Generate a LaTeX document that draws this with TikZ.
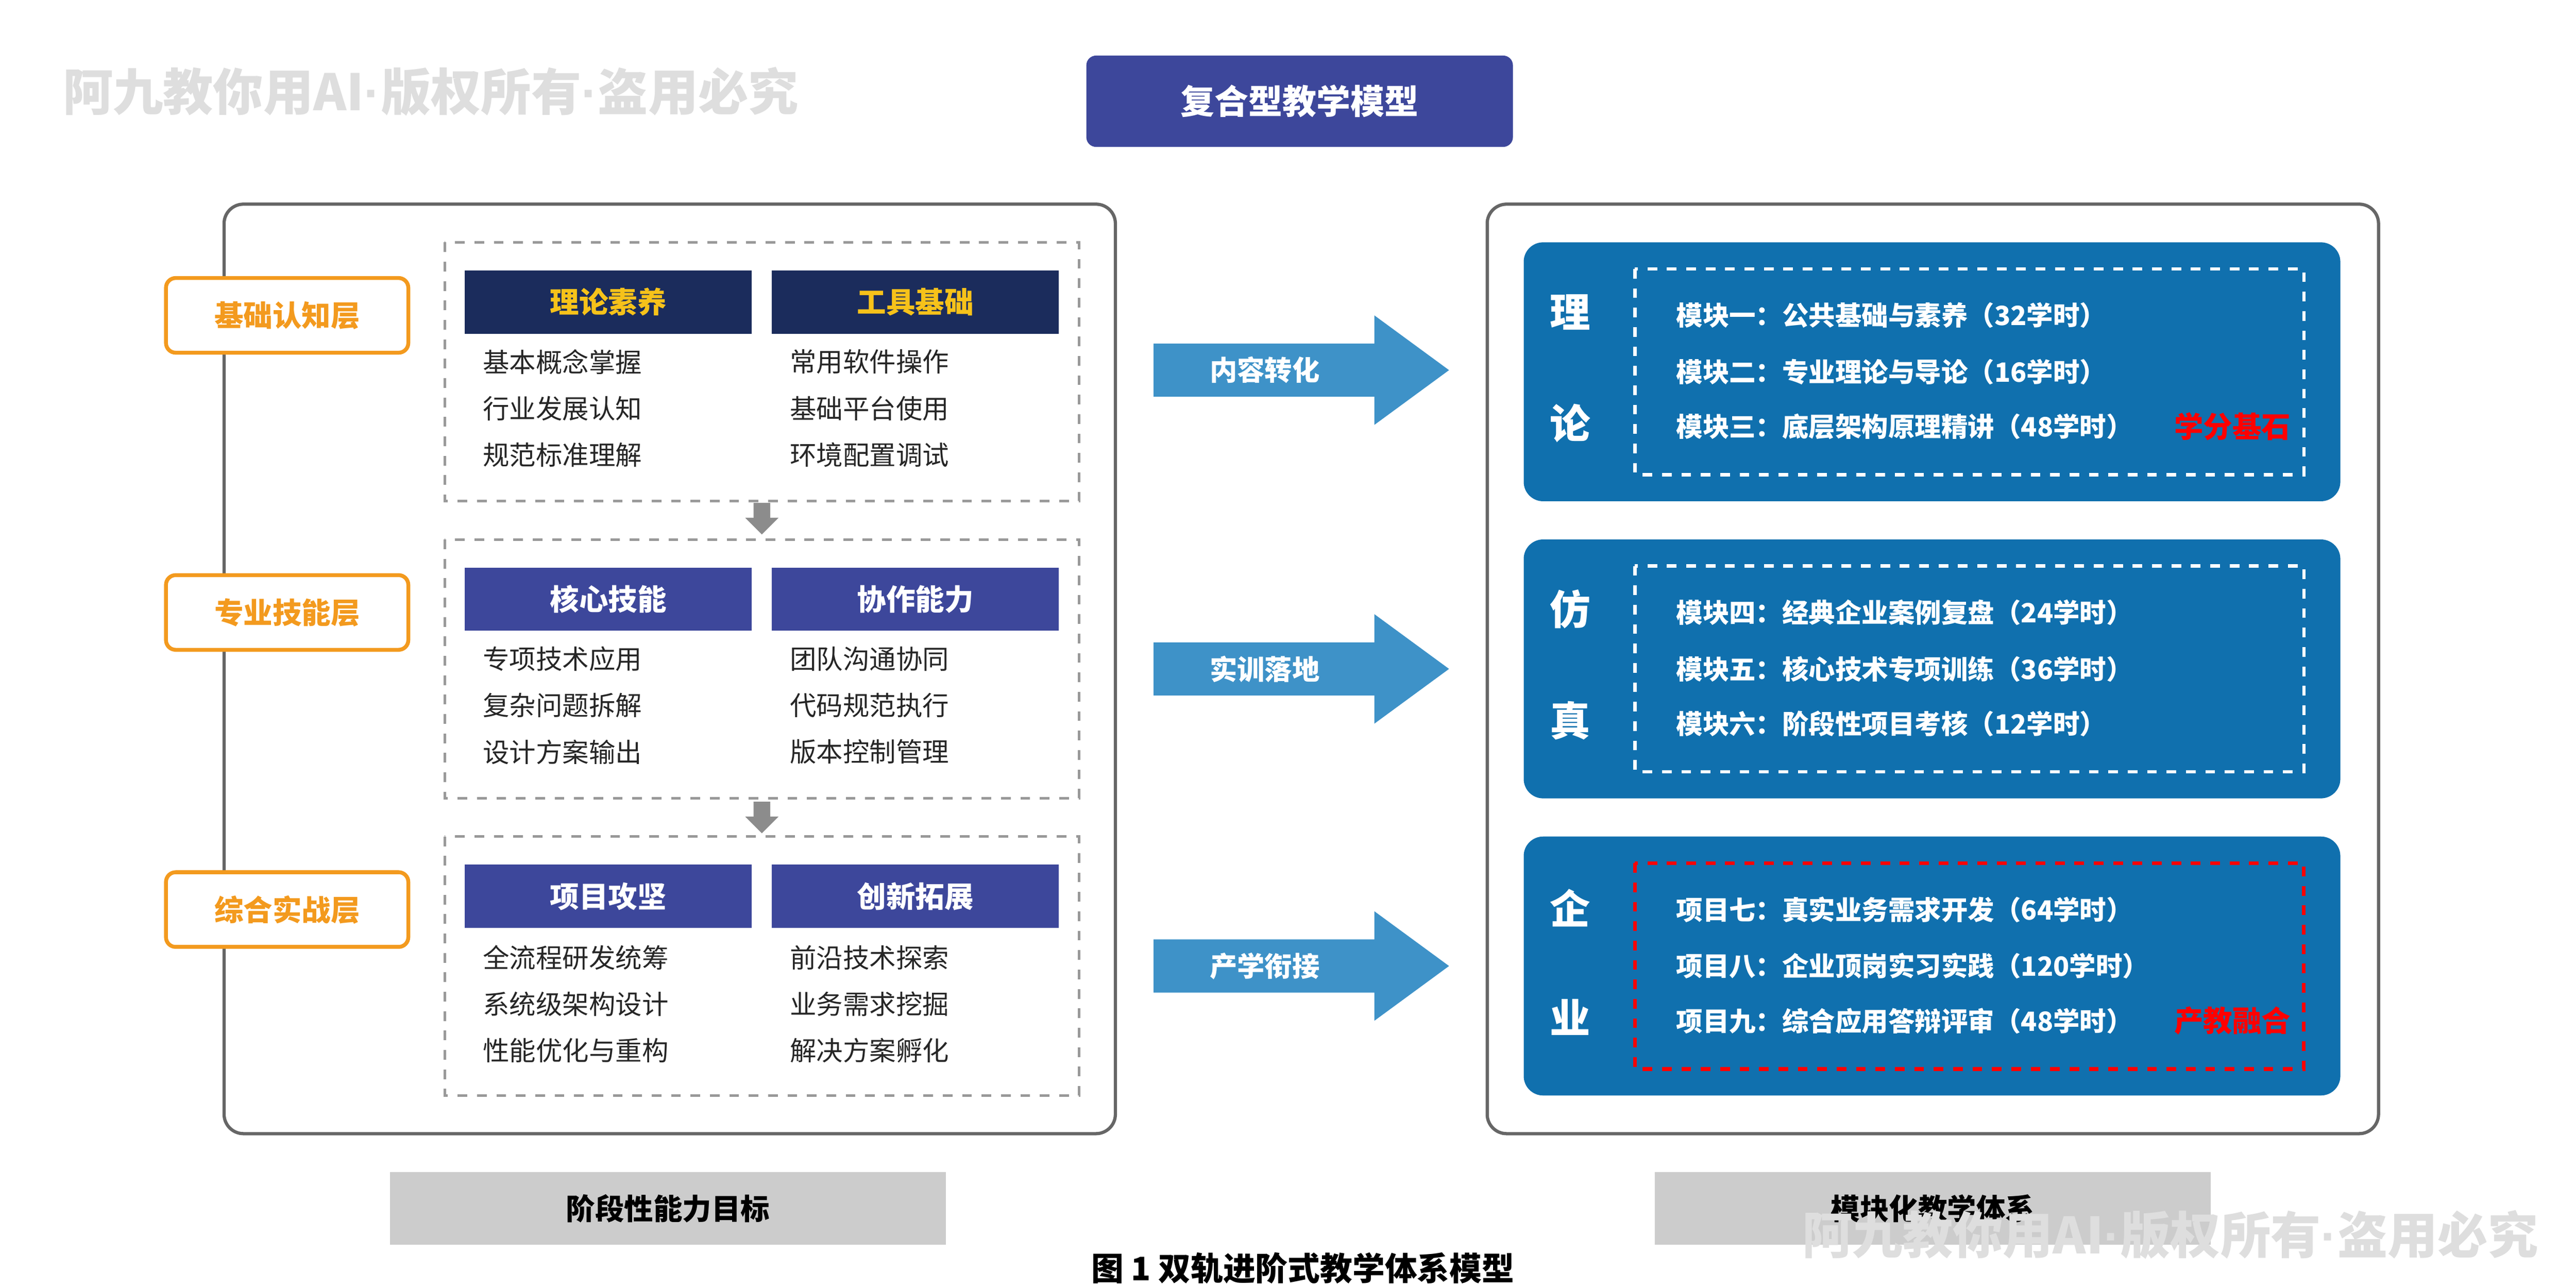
\documentclass[tikz,border=0pt]{standalone}
\usepackage{fontspec}
\setmainfont{Noto Sans CJK SC}
\newfontfamily\dotf{Liberation Sans}
\newcommand{\mydot}{{\dotf\bfseries ·}}
\usetikzlibrary{arrows.meta}
\definecolor{navy}{HTML}{1B2C5C}
\definecolor{indigo}{HTML}{3D479B}
\definecolor{gold}{HTML}{F6C21A}
\definecolor{orng}{HTML}{F39A1E}
\definecolor{blu}{HTML}{1070AE}
\definecolor{arr}{HTML}{3E92C8}
\begin{document}
\begin{tikzpicture}[x=0.01804cm,y=-0.01804cm,
 txt/.style={font=\fontsize{8.2}{9}\selectfont,anchor=west,text=black!85},
 hdr/.style={rectangle,minimum width=173*0.01804cm,minimum height=38*0.01804cm,inner sep=0,font=\bfseries\fontsize{9}{10}\selectfont},
 layer/.style={draw=orng,line width=1.2pt,rounded corners=3pt,fill=white,minimum width=146*0.01804cm,minimum height=45*0.01804cm,inner sep=0,text=orng,font=\bfseries\fontsize{9}{10}\selectfont},
 dbox/.style={draw=black!40,dashed,line width=0.8pt},
 bigc/.style={text=white,font=\bfseries\fontsize{12.5}{13}\selectfont},
 rtxt/.style={text=white,anchor=west,font=\bfseries\fontsize{8.2}{9}\selectfont},
 wm/.style={text=black!13,font=\bfseries\fontsize{15.5}{16}\selectfont},
 glab/.style={fill=black!20,minimum width=335*0.01804cm,minimum height=44*0.01804cm,inner sep=0,font=\bfseries\fontsize{9}{10}\selectfont}]
\useasboundingbox (0,0) rectangle (1552,776);
\fill[white] (0,0) rectangle (1552,776);
\node[wm,anchor=west] (wm1) at (31,55) {阿九教你用AI\mydot 版权所有\mydot 盗用必究};
\node[fill=indigo,rounded corners=3pt,minimum width=257*0.01804cm,minimum height=55*0.01804cm,inner sep=0,text=white,font=\bfseries\fontsize{10.5}{11}\selectfont] (title) at (783,61) {复合型教学模型};
\draw[black!60,line width=1pt,rounded corners=6pt] (135,123) rectangle (672,683);
\draw[black!60,line width=1pt,rounded corners=6pt] (896,123) rectangle (1433,683);
\foreach \y/\i in {146/1,325/2,504/3}{\draw[dbox] (268,\y) rectangle (650,\y+156);}
\node[layer] (L1) at (173,190) {基础认知层};
\node[layer] (L2) at (173,369) {专业技能层};
\node[layer] (L3) at (173,548) {综合实战层};
\node[hdr,fill=navy,text=gold] (h1) at (366.5,182) {理论素养};
\node[hdr,fill=navy,text=gold] (h2) at (551.5,182) {工具基础};
\node[hdr,fill=indigo,text=white] (h3) at (366.5,361) {核心技能};
\node[hdr,fill=indigo,text=white] (h4) at (551.5,361) {协作能力};
\node[hdr,fill=indigo,text=white] (h5) at (366.5,540) {项目攻坚};
\node[hdr,fill=indigo,text=white] (h6) at (551.5,540) {创新拓展};
\node[txt] (a1) at (284,218) {基本概念掌握};
\node[txt] (a2) at (284,246) {行业发展认知};
\node[txt] (a3) at (284,274) {规范标准理解};
\node[txt] (b1) at (469,218) {常用软件操作};
\node[txt] (b2) at (469,246) {基础平台使用};
\node[txt] (b3) at (469,274) {环境配置调试};
\node[txt] (c1) at (284,397) {专项技术应用};
\node[txt] (c2) at (284,425) {复杂问题拆解};
\node[txt] (c3) at (284,453) {设计方案输出};
\node[txt] (d1) at (469,397) {团队沟通协同};
\node[txt] (d2) at (469,425) {代码规范执行};
\node[txt] (d3) at (469,453) {版本控制管理};
\node[txt] (e1) at (284,577) {全流程研发统筹};
\node[txt] (e2) at (284,605) {系统级架构设计};
\node[txt] (e3) at (284,633) {性能优化与重构};
\node[txt] (f1) at (469,577) {前沿技术探索};
\node[txt] (f2) at (469,605) {业务需求挖掘};
\node[txt] (f3) at (469,633) {解决方案孵化};
\foreach \y in {303,483}{\fill[black!45] (454,\y) -- (464,\y) -- (464,\y+9) -- (469,\y+9) -- (459,\y+19) -- (449,\y+9) -- (454,\y+9) -- cycle;}
\foreach \y/\t in {223/内容转化,403/实训落地,582/产学衔接}{
 \fill[arr] (695,\y-16) -- (828,\y-16) -- (828,\y-33) -- (873,\y) -- (828,\y+33) -- (828,\y+16) -- (695,\y+16) -- cycle;
 \node[text=white,font=\bfseries\fontsize{8.5}{9}\selectfont] at (762,\y) {\t};}
\foreach \y in {146,325,504}{\fill[blu,rounded corners=6pt] (918,\y) rectangle (1410,\y+156);}
\draw[white,dashed,line width=1pt] (985,162) rectangle (1388,286);
\draw[white,dashed,line width=1pt] (985,341) rectangle (1388,465);
\draw[red,dashed,line width=1.2pt] (985,520) rectangle (1388,644);
\node[bigc] (r1) at (946,188) {理};
\node[bigc] (r2) at (946,255) {论};
\node[bigc] (r3) at (946,367) {仿};
\node[bigc] (r4) at (946,434) {真};
\node[bigc] (r5) at (946,547) {企};
\node[bigc] (r6) at (946,613) {业};
\node[rtxt] (m1) at (1003,190) {模块一：公共基础与素养（32学时）};
\node[rtxt] (m2) at (1003,224) {模块二：专业理论与导论（16学时）};
\node[rtxt] (m3) at (1003,257) {模块三：底层架构原理精讲（48学时）};
\node[rtxt] (m4) at (1003,369) {模块四：经典企业案例复盘（24学时）};
\node[rtxt] (m5) at (1003,403) {模块五：核心技术专项训练（36学时）};
\node[rtxt] (m6) at (1003,436) {模块六：阶段性项目考核（12学时）};
\node[rtxt] (m7) at (1003,548) {项目七：真实业务需求开发（64学时）};
\node[rtxt] (m8) at (1003,582) {项目八：企业顶岗实习实践（120学时）};
\node[rtxt] (m9) at (1003,615) {项目九：综合应用答辩评审（48学时）};
\node[text=red,font=\bfseries\fontsize{9}{10}\selectfont] (s1) at (1345,257) {学分基石};
\node[text=red,font=\bfseries\fontsize{9}{10}\selectfont] (s2) at (1345,615) {产教融合};
\node[glab] (g1) at (402.5,728) {阶段性能力目标};
\node[glab] (g2) at (1164.5,728) {模块化教学体系};
\node[wm,anchor=west] (wm2) at (1079,744) {阿九教你用AI\mydot 版权所有\mydot 盗用必究};
\node[font=\bfseries\fontsize{10}{11}\selectfont] (cap) at (785,764) {图 1 双轨进阶式教学体系模型};
\end{tikzpicture}
\end{document}
